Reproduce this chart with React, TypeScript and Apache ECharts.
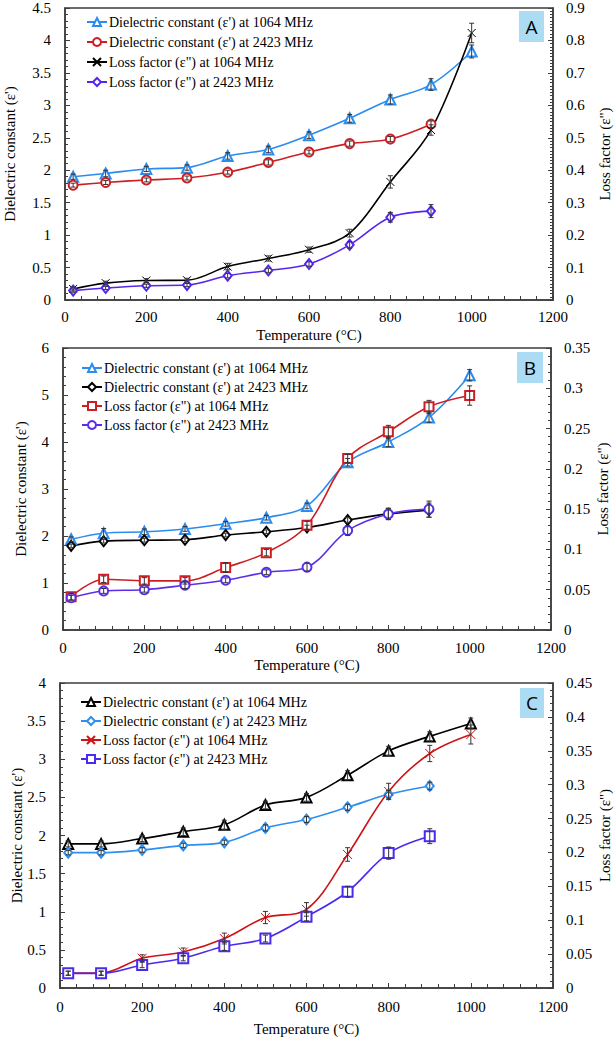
import React, { useEffect, useRef } from "react";
import * as echarts from "echarts";

// ---------- shared data ----------
const temps = [20, 100, 200, 300, 400, 500, 600, 700, 800, 900, 1000];

const nameEps1064 = "Dielectric constant (ε') at 1064 MHz";
const nameEps2423 = "Dielectric constant (ε') at 2423 MHz";
const nameLoss1064 = 'Loss factor (ε") at 1064 MHz';
const nameLoss2423 = 'Loss factor (ε") at 2423 MHz';

// ---------- panel A ----------
const aEps1064 = [1.9, 1.95, 2.02, 2.04, 2.22, 2.32, 2.54, 2.8, 3.09, 3.32, 3.83];
const aEps2423 = [1.77, 1.81, 1.85, 1.88, 1.97, 2.12, 2.28, 2.41, 2.48, 2.71];
const aLoss1064 = [0.034, 0.052, 0.06, 0.061, 0.103, 0.128, 0.155, 0.206, 0.364, 0.524, 0.823];
const aLoss2423 = [0.029, 0.037, 0.044, 0.046, 0.075, 0.091, 0.111, 0.17, 0.255, 0.274];
const aErrEps1064 = [0.04, 0.05, 0.04, 0.04, 0.05, 0.05, 0.05, 0.06, 0.07, 0.09, 0.1];
const aErrEps2423 = [0.03, 0.03, 0.03, 0.03, 0.03, 0.04, 0.03, 0.04, 0.04, 0.05];
const aErrLoss1064 = [0.006, 0.006, 0.006, 0.006, 0.01, 0.008, 0.008, 0.012, 0.019, 0.016, 0.03];
const aErrLoss2423 = [0.005, 0.005, 0.005, 0.005, 0.007, 0.007, 0.007, 0.01, 0.015, 0.02];

// ---------- panel B ----------
const bEps1064 = [1.93, 2.06, 2.09, 2.15, 2.26, 2.39, 2.64, 3.57, 4.0, 4.52, 5.42];
const bEps2423 = [1.79, 1.89, 1.91, 1.92, 2.02, 2.09, 2.18, 2.34, 2.47, 2.55];
const bLoss1064 = [0.0414, 0.063, 0.061, 0.061, 0.0775, 0.096, 0.13, 0.213, 0.246, 0.277, 0.291];
const bLoss2423 = [0.04, 0.0485, 0.05, 0.0555, 0.0617, 0.0717, 0.078, 0.1234, 0.144, 0.15];
const bErrEps1064 = [0.05, 0.1, 0.06, 0.05, 0.05, 0.05, 0.06, 0.08, 0.1, 0.1, 0.12];
const bErrEps2423 = [0.04, 0.04, 0.04, 0.04, 0.04, 0.04, 0.05, 0.05, 0.12, 0.15];
const bErrLoss1064 = [0.004, 0.004, 0.004, 0.004, 0.006, 0.004, 0.005, 0.005, 0.008, 0.008, 0.012];
const bErrLoss2423 = [0.003, 0.003, 0.003, 0.004, 0.003, 0.003, 0.005, 0.006, 0.007, 0.01];

// ---------- panel C ----------
const cEps1064 = [1.89, 1.89, 1.96, 2.05, 2.14, 2.4, 2.5, 2.79, 3.11, 3.3, 3.47];
const cEps2423 = [1.775, 1.775, 1.81, 1.87, 1.91, 2.1, 2.21, 2.37, 2.54, 2.65];
const cLoss1064 = [0.022, 0.022, 0.044, 0.053, 0.073, 0.104, 0.116, 0.197, 0.29, 0.346, 0.374];
const cLoss2423 = [0.0216, 0.0216, 0.034, 0.044, 0.0615, 0.073, 0.105, 0.142, 0.199, 0.224];
const cErrEps1064 = [0.04, 0.04, 0.04, 0.05, 0.06, 0.05, 0.05, 0.06, 0.06, 0.06, 0.07];
const cErrEps2423 = [0.03, 0.03, 0.03, 0.03, 0.03, 0.04, 0.04, 0.04, 0.05, 0.05];
const cErrLoss1064 = [0.003, 0.003, 0.005, 0.006, 0.008, 0.009, 0.01, 0.01, 0.012, 0.012, 0.014];
const cErrLoss2423 = [0.003, 0.003, 0.004, 0.004, 0.006, 0.005, 0.006, 0.008, 0.009, 0.011];

const SERIF = "Liberation Serif";
const SANS = "Open Sans";
const CROSS = "path://M0,0L10,10M10,0L0,10";
const AXIS_COLOR = "#3c3c3c";

type SeriesSpec = {
  name: string;
  values: number[];
  errors: number[];
  color: string;
  symbol: string;
  symbolSize: number | number[];
  yAxisIndex: number;
};

type PanelSpec = {
  letter: string;
  top: number;
  height: number;
  grid: { left: number; right: number; top: number; bottom: number };
  leftMax: number;
  leftInterval: number;
  leftMinor: number;
  rightMax: number;
  rightInterval: number;
  rightMinor: number;
  leftNameGap: number;
  rightNameGap: number;
  xNameGap: number;
  xLabelMargin: number;
  legendLeft: number;
  legendTop: number;
  legendGap: number;
  box: { x: number; y: number; w: number; h: number };
  series: SeriesSpec[];
};

const pair = (vals: number[]) => vals.map((v, i) => [temps[i], v]);
const triple = (vals: number[], errs: number[]) => vals.map((v, i) => [temps[i], v, errs[i]]);
const plain = (v: number) => String(Math.round(v * 1000) / 1000);

function buildOption(p: PanelSpec) {
  const lineSeries = p.series.map((s) => ({
    type: "line",
    name: s.name,
    yAxisIndex: s.yAxisIndex,
    data: pair(s.values),
    smooth: 0.35,
    symbol: s.symbol,
    symbolSize: s.symbolSize,
    showSymbol: true,
    lineStyle: { color: s.color, width: 1.6 },
    itemStyle: { color: s.color, borderColor: s.color, borderWidth: 1 },
    z: 3,
  }));
  const errSeries = p.series.map((s) => ({
    type: "custom",
    name: s.name + " error",
    yAxisIndex: s.yAxisIndex,
    data: triple(s.values, s.errors),
    encode: { x: 0, y: 1 },
    z: 5,
    silent: true,
    renderItem: (_params: any, api: any) => {
      const x = api.value(0);
      const y = api.value(1);
      const e = api.value(2);
      const top = api.coord([x, y + e]);
      const bot = api.coord([x, y - e]);
      const w = 2.5;
      const st = { stroke: "#333333", lineWidth: 1 };
      return {
        type: "group",
        children: [
          { type: "line", shape: { x1: top[0], y1: top[1], x2: bot[0], y2: bot[1] }, style: st },
          { type: "line", shape: { x1: top[0] - w, y1: top[1], x2: top[0] + w, y2: top[1] }, style: st },
          { type: "line", shape: { x1: bot[0] - w, y1: bot[1], x2: bot[0] + w, y2: bot[1] }, style: st },
        ],
      };
    },
  }));

  const yCommon = {
    type: "value",
    min: 0,
    nameLocation: "middle",
    nameRotate: 90,
    nameMoveOverlap: false,
    nameTextStyle: { fontFamily: SERIF, fontSize: 15, color: "#000" },
    axisLine: { show: true, lineStyle: { color: AXIS_COLOR, width: 1.5 } },
    axisTick: { show: true, inside: true, length: 5, lineStyle: { color: AXIS_COLOR } },
    splitLine: { show: false },
  };

  return {
    animation: false,
    backgroundColor: "transparent",
    textStyle: { fontFamily: SERIF },
    grid: {
      left: p.grid.left,
      right: p.grid.right,
      top: p.grid.top,
      bottom: p.grid.bottom,
      containLabel: false,
      outerBoundsMode: "none",
      show: true,
      borderColor: AXIS_COLOR,
      borderWidth: 1.5,
      backgroundColor: "transparent",
    },
    legend: {
      data: p.series.map((s) => s.name),
      orient: "vertical",
      left: p.legendLeft,
      top: p.legendTop,
      itemGap: p.legendGap,
      itemWidth: 20,
      itemHeight: 10,
      padding: 0,
      selectedMode: false,
      textStyle: { fontFamily: SERIF, fontSize: 14, color: "#000", padding: [0, 0, 0, -3] },
    },
    xAxis: {
      type: "value",
      min: 0,
      max: 1200,
      interval: 200,
      name: "Temperature (°C)",
      nameLocation: "middle",
      nameGap: p.xNameGap,
      nameMoveOverlap: false,
      nameTextStyle: { fontFamily: SERIF, fontSize: 15, color: "#000" },
      axisLine: { show: true, lineStyle: { color: AXIS_COLOR, width: 1.5 } },
      axisTick: { show: true, inside: true, length: 5, lineStyle: { color: AXIS_COLOR } },
      minorTick: { show: true, splitNumber: 5, length: 4, lineStyle: { color: AXIS_COLOR } },
      axisLabel: { margin: p.xLabelMargin, fontFamily: SERIF, fontSize: 15, color: "#000", formatter: plain },
      splitLine: { show: false },
    },
    yAxis: [
      {
        ...yCommon,
        position: "left",
        max: p.leftMax,
        interval: p.leftInterval,
        name: "Dielectric constant (ε')",
        nameGap: p.leftNameGap,
        minorTick: { show: true, splitNumber: p.leftMinor, length: 3, lineStyle: { color: AXIS_COLOR } },
        axisLabel: { margin: 14, fontFamily: SERIF, fontSize: 15, color: "#000", formatter: plain },
      },
      {
        ...yCommon,
        position: "right",
        max: p.rightMax,
        interval: p.rightInterval,
        name: 'Loss factor (ε")',
        nameGap: p.rightNameGap,
        minorTick: { show: true, splitNumber: p.rightMinor, length: 3, lineStyle: { color: AXIS_COLOR } },
        axisLabel: { margin: 13, fontFamily: SERIF, fontSize: 15, color: "#000", formatter: plain },
      },
    ],
    graphic: [
      {
        type: "rect",
        shape: { x: p.box.x, y: p.box.y, width: p.box.w, height: p.box.h },
        style: { fill: "#abdcf4" },
        z: 10,
      },
      {
        type: "text",
        x: p.box.x + p.box.w / 2,
        y: p.box.y + p.box.h / 2,
        style: {
          text: p.letter,
          fontFamily: SANS,
          fontSize: 19,
          fill: "#000",
          align: "center",
          verticalAlign: "middle",
        },
        z: 11,
      },
    ],
    series: [...lineSeries, ...errSeries],
  };
}

const panelA: PanelSpec = {
  letter: "A",
  top: 0,
  height: 345,
  grid: { left: 65, right: 63, top: 8, bottom: 45 },
  leftMax: 4.5,
  leftInterval: 0.5,
  leftMinor: 5,
  rightMax: 0.9,
  rightInterval: 0.1,
  rightMinor: 10,
  leftNameGap: 48,
  rightNameGap: 44,
  xNameGap: 27,
  xLabelMargin: 9,
  legendLeft: 86,
  legendTop: 15,
  legendGap: 6,
  box: { x: 519, y: 11, w: 25, h: 31 },
  series: [
    { name: nameEps1064, values: aEps1064, errors: aErrEps1064, color: "#2b8cef", symbol: "emptyTriangle", symbolSize: 10, yAxisIndex: 0 },
    { name: nameEps2423, values: aEps2423, errors: aErrEps2423, color: "#cc1f24", symbol: "emptyCircle", symbolSize: 9, yAxisIndex: 0 },
    { name: nameLoss1064, values: aLoss1064, errors: aErrLoss1064, color: "#000000", symbol: CROSS, symbolSize: 8, yAxisIndex: 1 },
    { name: nameLoss2423, values: aLoss2423, errors: aErrLoss2423, color: "#5526ee", symbol: "emptyDiamond", symbolSize: [8, 10], yAxisIndex: 1 },
  ],
};

const panelB: PanelSpec = {
  letter: "B",
  top: 335,
  height: 350,
  grid: { left: 63, right: 65, top: 13, bottom: 55 },
  leftMax: 6,
  leftInterval: 1,
  leftMinor: 5,
  rightMax: 0.35,
  rightInterval: 0.05,
  rightMinor: 5,
  leftNameGap: 35,
  rightNameGap: 44,
  xNameGap: 27,
  xLabelMargin: 10,
  legendLeft: 81,
  legendTop: 26,
  legendGap: 5,
  box: { x: 517, y: 17, w: 26, h: 31 },
  series: [
    { name: nameEps1064, values: bEps1064, errors: bErrEps1064, color: "#2b8cef", symbol: "emptyTriangle", symbolSize: 10, yAxisIndex: 0 },
    { name: nameEps2423, values: bEps2423, errors: bErrEps2423, color: "#000000", symbol: "emptyDiamond", symbolSize: [8, 10], yAxisIndex: 0 },
    { name: nameLoss1064, values: bLoss1064, errors: bErrLoss1064, color: "#cc1f24", symbol: "emptyRect", symbolSize: 9, yAxisIndex: 1 },
    { name: nameLoss2423, values: bLoss2423, errors: bErrLoss2423, color: "#5a2ee8", symbol: "emptyCircle", symbolSize: 9, yAxisIndex: 1 },
  ],
};

const panelC: PanelSpec = {
  letter: "C",
  top: 675,
  height: 364,
  grid: { left: 60, right: 63, top: 8, bottom: 51 },
  leftMax: 4,
  leftInterval: 0.5,
  leftMinor: 5,
  rightMax: 0.45,
  rightInterval: 0.05,
  rightMinor: 5,
  leftNameGap: 36,
  rightNameGap: 44,
  xNameGap: 33,
  xLabelMargin: 11,
  legendLeft: 80,
  legendTop: 20,
  legendGap: 5,
  box: { x: 520, y: 13, w: 24, h: 30 },
  series: [
    { name: nameEps1064, values: cEps1064, errors: cErrEps1064, color: "#000000", symbol: "emptyTriangle", symbolSize: 10, yAxisIndex: 0 },
    { name: nameEps2423, values: cEps2423, errors: cErrEps2423, color: "#2e8ff0", symbol: "emptyDiamond", symbolSize: [8, 10], yAxisIndex: 0 },
    { name: nameLoss1064, values: cLoss1064, errors: cErrLoss1064, color: "#cc1416", symbol: CROSS, symbolSize: 9, yAxisIndex: 1 },
    { name: nameLoss2423, values: cLoss2423, errors: cErrLoss2423, color: "#4b2af0", symbol: "emptyRect", symbolSize: 10, yAxisIndex: 1 },
  ],
};

function Panel({ spec }: { spec: PanelSpec }) {
  const ref = useRef<HTMLDivElement>(null);
  useEffect(() => {
    if (!ref.current) return;
    const chart = echarts.init(ref.current, undefined, { renderer: "svg" });
    chart.setOption(buildOption(spec) as any);
    return () => chart.dispose();
  }, [spec]);
  return (
    <div
      ref={ref}
      style={{ position: "absolute", left: 0, top: spec.top, width: 616, height: spec.height }}
    />
  );
}

export default function App() {
  return (
    <div style={{ position: "absolute", left: 0, top: 0, width: 616, height: 1039, background: "#fff" }}>
      <Panel spec={panelA} />
      <Panel spec={panelB} />
      <Panel spec={panelC} />
    </div>
  );
}
